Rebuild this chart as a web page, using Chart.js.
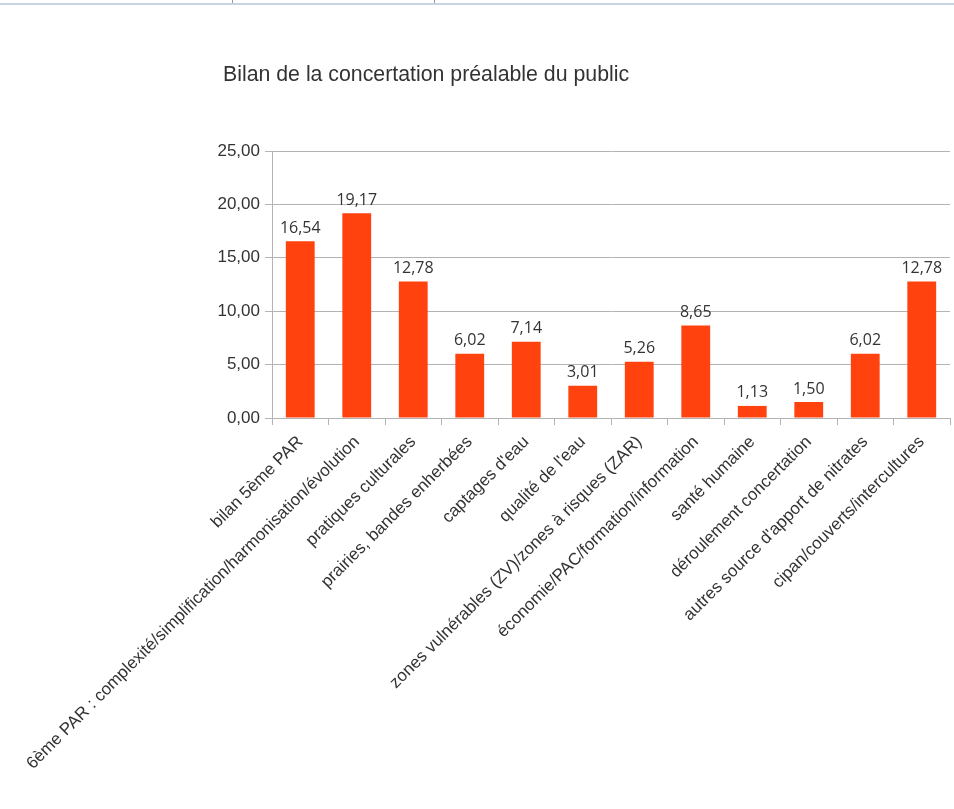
<!DOCTYPE html>
<html>
<head>
<meta charset="utf-8">
<script src="https://cdn.jsdelivr.net/npm/chart.js@4/dist/chart.umd.min.js"></script>
<style>
  html, body { margin: 0; padding: 0; background: #fff; }
  #wrap { position: relative; width: 954px; height: 809px; }
  #strip { position: absolute; left: 0; top: 0; width: 954px; height: 3px; border-bottom: 2px solid #c6d4e4; }
  #strip .sep { position: absolute; top: 0; width: 1px; height: 3px; background: #999; }
  #title { position: absolute; left: 223px; top: 61px; margin: 0; font: normal 21.3px "Liberation Sans", Arial, sans-serif; line-height: 26px; color: #333; }
</style>
</head>
<body>
<div id="wrap">
  <canvas id="chart"></canvas>
  <div id="strip"><div class="sep" style="left:232px"></div><div class="sep" style="left:434px"></div></div>
  <h1 id="title"></h1>
</div>
<script>
const categories = [
  'bilan 5ème PAR',
  '6ème PAR : complexité/simplification/harmonisation/évolution',
  'pratiques culturales',
  'prairies, bandes enherbées',
  "captages d'eau",
  "qualité de l'eau",
  'zones vulnérables (ZV)/zones à risques (ZAR)',
  'économie/PAC/formation/information',
  'santé humaine',
  'déroulement concertation',
  "autres source d'apport de nitrates",
  'cipan/couverts/intercultures',
];
const values = [16.54, 19.17, 12.78, 6.02, 7.14, 3.01, 5.26, 8.65, 1.13, 1.50, 6.02, 12.78];
const chartTitle = 'Bilan de la concertation préalable du public';

const fmt = v => v.toFixed(2).replace('.', ',');

document.getElementById('title').textContent = chartTitle;

// draw the value above each bar
const valueLabels = {
  id: 'valueLabels',
  afterDatasetsDraw(chart) {
    const ctx = chart.ctx;
    const meta = chart.getDatasetMeta(0);
    ctx.save();
    ctx.font = '16px "Open Sans"';
    ctx.fillStyle = '#333';
    ctx.textAlign = 'center';
    ctx.textBaseline = 'bottom';
    meta.data.forEach((bar, i) => {
      ctx.fillText(fmt(values[i]), bar.x, bar.y - 5);
    });
    ctx.restore();
  },
};

const ctx = document.getElementById('chart').getContext('2d');
new Chart(ctx, {
  type: 'bar',
  data: {
    labels: categories,
    datasets: [{
      data: values,
      backgroundColor: '#ff420e',
      categoryPercentage: 1,
      barPercentage: 0.51,
    }],
  },
  options: {
    responsive: true,
    maintainAspectRatio: false,
    animation: false,
    layout: { padding: { left: 160, right: 4, top: 151, bottom: 0 } },
    plugins: {
      legend: { display: false },
      tooltip: { enabled: false },
      title: { display: false },
    },
    scales: {
      y: {
        min: 0,
        max: 25,
        afterFit: scale => { scale.width = 112; },
        ticks: {
          stepSize: 5,
          padding: 5,
          color: '#333',
          font: { family: '"Liberation Sans", Arial, sans-serif', size: 17 },
          callback: v => fmt(v),
        },
        grid: { color: '#b3b3b3', tickLength: 7 },
        border: { color: '#b3b3b3' },
      },
      x: {
        afterFit: scale => { scale.height = 391; },
        ticks: {
          autoSkip: false,
          minRotation: 45,
          maxRotation: 45,
          padding: 7,
          color: '#333',
          font: { family: '"Liberation Sans", Arial, sans-serif', size: 17 },
        },
        grid: { color: '#b3b3b3', drawOnChartArea: false, tickLength: 7 },
        border: { color: '#b3b3b3' },
      },
    },
  },
  plugins: [valueLabels],
});
</script>
</body>
</html>
